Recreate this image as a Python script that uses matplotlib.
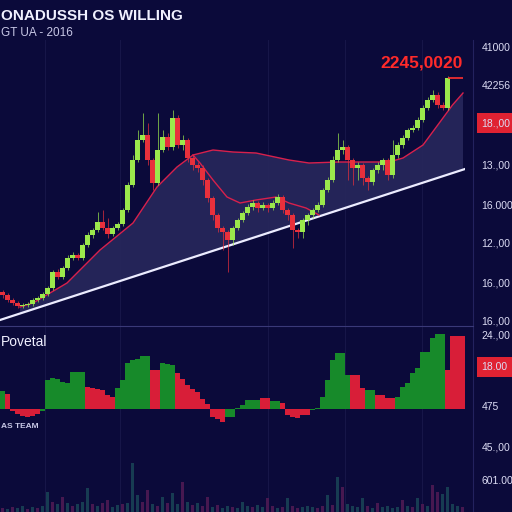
import numpy as np
import matplotlib.pyplot as plt
from matplotlib.lines import Line2D

# ---- price candles (arbitrary price units) ----
opens = [38, 35, 30, 27, 24, 25, 26, 30, 32, 36, 42, 58, 53, 62, 72, 75, 72, 85, 95, 100,
         108, 102, 96, 102, 106, 120, 145, 170, 190, 195, 170, 147, 180, 193, 183, 212, 185, 190, 172, 165,
         162, 150, 132, 115, 102, 98, 90, 102, 110, 117, 123, 127, 122, 125, 122, 127, 133, 120, 115, 100,
         98, 110, 115, 120, 125, 140, 150, 170, 180, 183, 170, 162, 165, 152, 148, 160, 165, 170, 155, 175,
         185, 192, 200, 202, 210, 222, 230, 235, 225, 222]
closes = [35, 30, 27, 24, 25, 26, 30, 32, 36, 42, 58, 53, 62, 72, 75, 72, 85, 95, 100, 108,
          102, 96, 102, 106, 120, 145, 170, 190, 195, 170, 147, 180, 193, 183, 212, 185, 190, 172, 165, 162,
          150, 132, 115, 102, 98, 90, 102, 110, 117, 123, 127, 122, 125, 122, 127, 133, 120, 115, 100, 98,
          110, 115, 120, 125, 140, 150, 170, 180, 183, 170, 162, 165, 152, 148, 160, 165, 170, 155, 175, 185,
          192, 200, 202, 210, 222, 230, 235, 225, 222, 252]
highs = [40, 37, 32, 29, 27, 28, 32, 34, 38, 44, 60, 61, 64, 75, 78, 77, 87, 98, 102, 118,
         120, 112, 104, 108, 122, 148, 175, 200, 217, 207, 172, 217, 200, 197, 220, 215, 195, 192, 175, 168,
         165, 152, 134, 117, 104, 100, 104, 112, 119, 126, 130, 129, 128, 127, 130, 136, 135, 122, 117, 102,
         112, 117, 122, 128, 142, 153, 174, 197, 190, 185, 172, 168, 167, 154, 162, 168, 172, 172, 190, 188,
         195, 202, 205, 213, 225, 233, 240, 238, 228, 254]
lows = [32, 28, 25, 22, 22, 23, 24, 28, 30, 34, 40, 51, 51, 60, 70, 70, 70, 83, 92, 98,
        100, 92, 94, 100, 104, 118, 143, 168, 188, 165, 140, 145, 178, 180, 180, 182, 180, 168, 160, 158,
        145, 128, 110, 98, 80, 58, 85, 100, 108, 115, 120, 118, 120, 118, 120, 125, 117, 110, 82, 92,
        92, 105, 112, 118, 123, 138, 148, 168, 176, 150, 145, 150, 145, 140, 145, 157, 160, 150, 152, 172,
        182, 190, 198, 200, 208, 220, 228, 222, 220, 220]

# moving-average style curves (x in candle index)
ma_upper_x = [3.5, 6.1, 12.9, 19.5, 26.1, 30.9, 34.9, 38.1, 42.1, 46.1, 50.7, 57.3, 61.3, 67.3,
              77.3, 80.1, 84.1, 87.5, 90.0, 92.1]
ma_upper_v = [23, 27, 47, 80, 107, 143, 163, 175, 180, 178, 177, 170, 167, 168,
              168, 172, 185, 208, 225, 237]
ma_lower_x = [38.1, 39.5, 42.1, 44.9, 47.5, 50.7, 54.7, 57.3, 60.7, 63.3]
ma_lower_v = [175, 167, 150, 133, 127, 130, 133, 127, 122, 115]
trend_x = [-0.5, 92.5]
trend_v = [10, 161]

# oscillator bars
osc = [18, 15, -2, -5, -7, -8, -7, -5, -2, 29, 31, 30, 27, 26, 37, 37, 37, 22, 21, 20,
       19, 14, 12, 21, 29, 46, 49, 50, 53, 53, 39, 39, 46, 45, 44, 36, 30, 24, 20, 17,
       10, 5, -8, -10, -13, -8, -8, 1, 4, 9, 9, 9, 11, 11, 8, 8, 6, -6, -8, -9,
       -6, -6, -1, 1, 12, 29, 49, 56, 56, 34, 34, 34, 21, 19, 19, 14, 14, 11, 11, 12,
       22, 26, 36, 41, 57, 57, 71, 75, 75, 39, 73, 73, 73]
osc_up = "gr" + "r" * 6 + "g" * 9 + "r" * 6 + "g" * 7 + "rr" + "ggg" + "r" * 10 + "g" * 7 + \
         "rr" + "gg" + "r" * 6 + "g" * 8 + "rrr" + "gg" + "rrrr" + "g" * 10 + "rrrr"

# volume bars
vol = [4, 3, 5, 4, 6, 3, 5, 4, 6, 20, 10, 8, 15, 9, 6, 8, 10, 24, 8, 6,
       9, 12, 5, 7, 8, 9, 49, 17, 10, 22, 8, 6, 15, 9, 19, 8, 30, 10, 7, 9,
       6, 15, 5, 7, 4, 6, 5, 4, 10, 6, 5, 7, 5, 14, 6, 4, 5, 14, 6, 4,
       5, 6, 5, 4, 6, 17, 7, 35, 25, 8, 6, 5, 14, 6, 4, 9, 5, 6, 4, 5,
       12, 6, 5, 14, 8, 6, 27, 20, 18, 25, 8, 6, 5]
vol_kind = "mtmttmtmttmtmtmtttmtmmttmtttmmtmtmttmtmtmmtmttmtttmttmmtmtmmtttmmtmtmttttmtmttttmtmtmtmmttttmmmttm"

grid_x = [8.5, 23.5, 53.1, 68.5, 83.9]

main_ticks = [283, 245, 208, 165, 125, 88, 47, 10]
main_labels = ["41000", "42256", "18.,00", "13.,00", "16.000", "12.,00", "16.,00", "16.,00"]
osc_ticks = [74, 43, 3]
osc_labels = ["24.,00", "18.00", "475"]
vol_ticks = [65, 32]
vol_labels = ["45.,00", "601.00"]

BG = "#0b0a3a"
UP = "#9be84c"
DOWN = "#e8303c"
TXT = "#dcdcf4"

plt.rcParams["font.family"] = ["Liberation Sans", "DejaVu Sans"]

fig = plt.figure(figsize=(5.12, 5.12), dpi=100, facecolor=BG)
W = 465 / 512
ax = fig.add_axes([0, 1 - 325 / 512, W, 285 / 512])
ax_osc = fig.add_axes([0, 1 - 430 / 512, W, 105 / 512])
ax_vol = fig.add_axes([0, 0, W, 82 / 512])

for a in (ax, ax_osc, ax_vol):
    a.set_facecolor(BG)
    for s in a.spines.values():
        s.set_visible(False)
    a.set_xlim(-0.5, 92.5)
    a.set_xticks([])
    a.yaxis.tick_right()
    a.tick_params(axis="y", length=0, pad=12, labelsize=7.5, labelcolor=TXT)
    for gx in grid_x:
        a.axvline(gx, color="#171648", lw=0.8, zorder=0)

# main panel
idx = np.arange(len(closes))
ax.set_ylim(5, 290)
shade_x = ma_upper_x + [ma_upper_x[-1], ma_upper_x[0]]
shade_v = ma_upper_v + list(np.interp([ma_upper_x[-1], ma_upper_x[0]], trend_x, trend_v))
ax.fill(shade_x, shade_v, color="#26265a", alpha=0.95, zorder=1, lw=0)
ax.plot(trend_x, trend_v, color="#ececff", lw=1.6, zorder=2)
ax.plot(ma_upper_x, ma_upper_v, color="#d8204c", lw=1.0, zorder=3)
ax.plot(ma_lower_x, ma_lower_v, color="#d8204c", lw=1.0, zorder=3)

cols = [UP if c >= o else DOWN for o, c in zip(opens, closes)]
ax.vlines(idx, lows, highs, colors=cols, lw=0.7, alpha=0.7, zorder=4)
bottoms = np.minimum(opens, closes)
heights = np.maximum(np.abs(np.array(closes) - np.array(opens)), 1)
ax.bar(idx, heights, bottom=bottoms, width=0.95, color=cols, zorder=5, lw=0)
ax.hlines(closes[-1], idx[-1], 92.1, color="#ff3030", lw=1.2, zorder=5)

ax.set_yticks(main_ticks)
ax.set_yticklabels(main_labels)
ax.get_yticklabels()[2].set_bbox(dict(facecolor="#e02232", edgecolor="none", pad=3.5))
ax.text(0.995, 252 + 8, "2245,0020", transform=ax.get_yaxis_transform(), ha="right", va="bottom",
        color="#ff2a2a", fontsize=12.5, fontweight="bold", zorder=6)

# oscillator panel
ax_osc.set_ylim(-21, 84)
ocols = ["#178a2a" if k == "g" else "#d81e38" for k in osc_up]
ax_osc.bar(np.arange(len(osc)), osc, width=1.0, color=ocols, lw=0, zorder=3)
ax_osc.set_yticks(osc_ticks)
ax_osc.set_yticklabels(osc_labels)
ax_osc.get_yticklabels()[1].set_bbox(dict(facecolor="#e02232", edgecolor="none", pad=3.5))

# volume panel
ax_vol.set_ylim(0, 82)
vcols = ["#173c52" if k == "t" else "#471850" for k in vol_kind[:len(vol)]]
ax_vol.bar(np.arange(len(vol)), vol, width=0.6, color=vcols, lw=0, zorder=3)
ax_vol.set_yticks(vol_ticks)
ax_vol.set_yticklabels(vol_labels)

# separators
fig.add_artist(Line2D([473 / 512, 473 / 512], [0, 1 - 40 / 512], color="#23225e", lw=0.8))
fig.add_artist(Line2D([0, 473 / 512], [1 - 326 / 512] * 2, color="#3a3978", lw=0.8))

fig.text(0.002, 1 - 16 / 512, "ONADUSSH OS WILLING", color="#f0f0ff", fontsize=11,
         fontweight="bold", va="center", ha="left")
fig.text(0.002, 1 - 33 / 512, "GT UA - 2016", color="#c8c8e6", fontsize=8.5, va="center", ha="left")
fig.text(0.002, 1 - 342 / 512, "Povetal", color="#f0f0ff", fontsize=10, va="center", ha="left")
fig.text(0.002, 1 - 426 / 512, "AS TEAM", color="#c8c8e6", fontsize=6, fontweight="bold",
         va="center", ha="left")

fig.savefig("out.png", dpi=100, facecolor=BG)
